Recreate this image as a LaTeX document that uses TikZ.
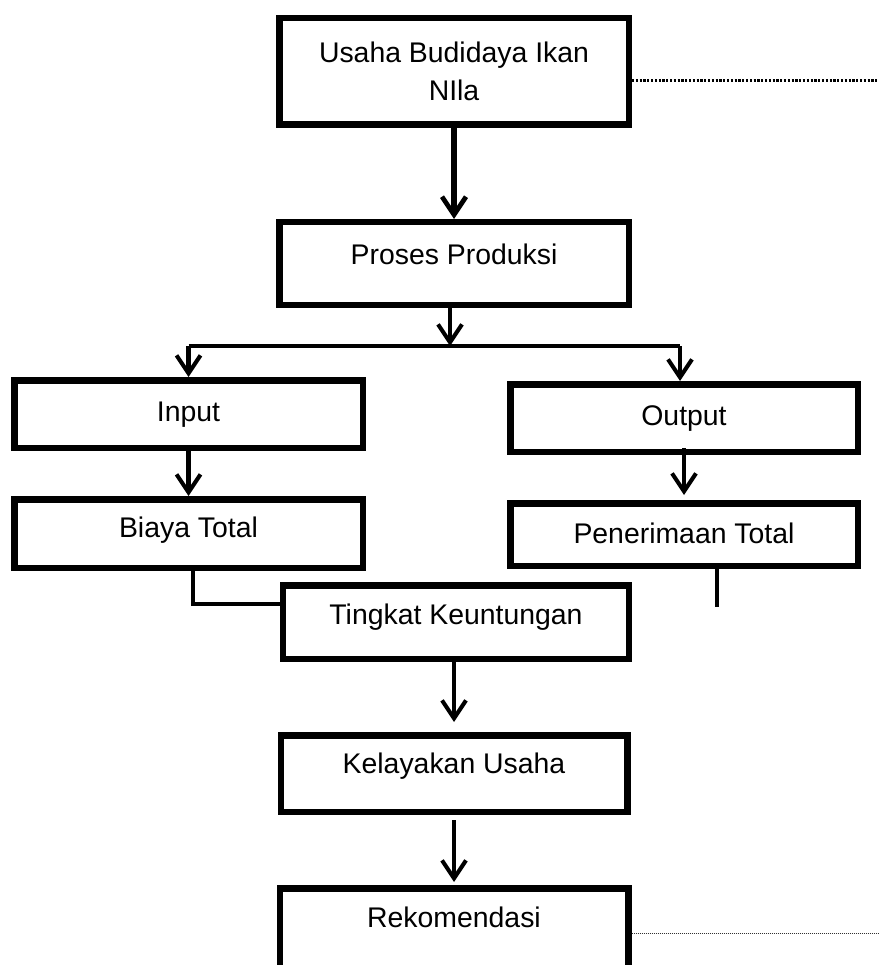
\documentclass[tikz,border=0pt]{standalone}
\usepackage{fontspec}
\setmainfont{Liberation Sans}
\usetikzlibrary{arrows.meta, positioning, calc}

\tikzset{
    kotak/.style={draw, line width=6.5pt, inner sep=0pt, outer sep=3.25pt, anchor=base,
        font={\fontsize{28.4}{38}\selectfont}},
    panah/.style={line width=4.5pt, -{Straight Barb[length=18pt, width=24pt, line width=0pt 0.9]}},
    garis/.style={line width=4pt},
    titik tebal/.style={line width=3pt, dash pattern=on 2.2pt off 1.6pt},
    titik tipis/.style={line width=1pt, dash pattern=on 1pt off 1pt, black!80},
}

\begin{document}
\begin{tikzpicture}[x=1pt, y=-1pt]
    \path[use as bounding box, fill=white] (0,0) rectangle (878,965);

    \node[kotak, anchor=center, align=center, minimum width=349.5pt, minimum height=106.5pt] (usaha) at (454,71.5) {Usaha Budidaya Ikan\\NIla};
    \node[kotak, minimum width=349.5pt, text height=42.75pt, text depth=39.75pt] (proses) at (454,265) {Proses Produksi};
    \node[kotak, minimum width=348.5pt, text height=40.75pt, text depth=26.75pt] (input) at (188.5,421) {Input};
    \node[kotak, minimum width=348.5pt, text height=37.75pt, text depth=30.75pt] (biaya) at (188.5,537) {Biaya Total};
    \node[kotak, minimum width=347.5pt, text height=40.75pt, text depth=26.75pt] (output) at (684,425) {Output};
    \node[kotak, minimum width=347.5pt, text height=39.75pt, text depth=22.75pt] (penerimaan) at (684,543) {Penerimaan Total};
    \node[kotak, minimum width=346pt, text height=38.75pt, text depth=34.75pt] (tingkat) at (456,624) {Tingkat Keuntungan};
    \node[kotak, minimum width=346.5pt, text height=37.75pt, text depth=38.75pt] (kelayakan) at (454,773) {Kelayakan Usaha};
    \node[kotak, minimum width=348.5pt, text height=38.75pt, text depth=50pt] (rekomendasi) at (454,927) {Rekomendasi};

    \coordinate (cabang) at (450,346);
    \coordinate (kiri) at (input.north |- cabang);
    \coordinate (kanan) at (680,346);
    \coordinate (ujung) at (717,607);
    \coordinate (batas1) at (878,81);
    \coordinate (batas2) at (878,933);

    \draw[panah, line width=5.3pt] (usaha.south) -- (proses.north);
    \draw[panah] (proses.south -| cabang) -- (cabang);
    \draw[garis] (kiri) -- (kanan);
    \draw[panah] (kiri) -- (input.north);
    \draw[panah] (kanan) -- (kanan |- output.north);
    \draw[panah] (input.south) -- (biaya.north);
    \draw[panah] ([yshift=7pt]output.south) -- ([yshift=5pt]penerimaan.north);
    \draw[garis] ([xshift=4.5pt]biaya.south) |- ([yshift=18pt]tingkat.west);
    \draw[garis] (penerimaan.south -| ujung) -- (ujung);
    \draw[panah] (kelayakan.north |- tingkat.south) -- ([yshift=10pt]kelayakan.north);
    \draw[panah] ([yshift=-5pt]kelayakan.south) -- ([yshift=3pt]rekomendasi.north);

    \draw[titik tebal] (usaha.east |- batas1) -- (batas1);
    \draw[titik tipis] (rekomendasi.east |- batas2) -- (batas2);
\end{tikzpicture}
\end{document}
